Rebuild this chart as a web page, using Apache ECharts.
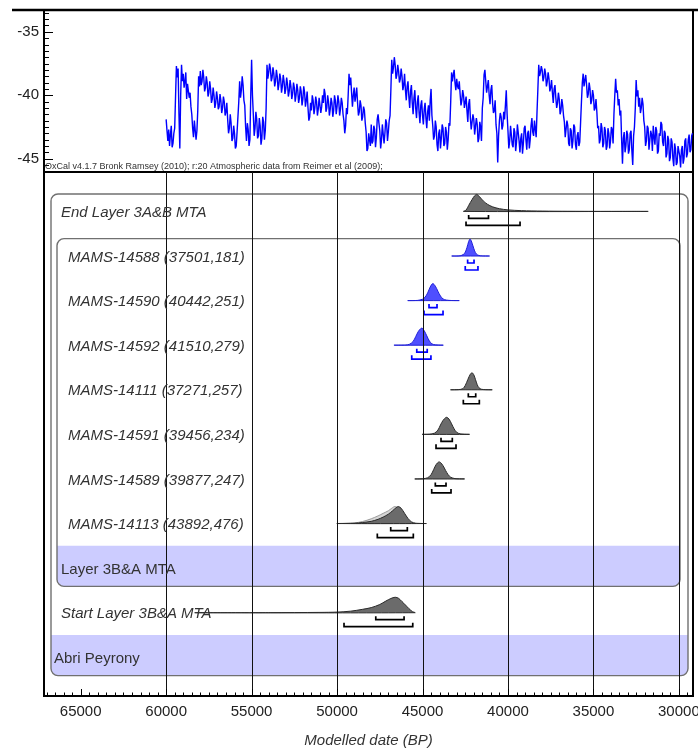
<!DOCTYPE html>
<html>
<head>
<meta charset="utf-8">
<script src="https://cdn.jsdelivr.net/npm/echarts@6/dist/echarts.min.js"></script>
<style>
html, body { margin: 0; padding: 0; background: #fff; }
#chart { width: 698px; height: 749px; }
</style>
</head>
<body>
<div id="chart"></div>
<script>
// δ18O ice-core record (per mil), sampled every 50 years from 60000 BP towards the present
const isoStartYear = 60000;
const isoStep = 50;
const isoValues = [
  -41.9,-42.8,-43.6,-42.7,-44.0,-43.1,-42.4,-44.1,-43.8,-43.0,-42.6,-40.1,-37.7,-38.6,-37.9,-41.5,-44.2,-40.0,-37.6,-38.9,
  -38.3,-39.4,-38.9,-38.2,-40.3,-39.1,-39.0,-40.2,-39.8,-40.9,-41.5,-42.6,-43.3,-42.0,-42.1,-43.5,-42.8,-41.2,-38.5,-39.3,
  -38.1,-39.2,-38.9,-38.0,-38.6,-39.7,-39.4,-38.5,-39.0,-40.1,-39.8,-38.9,-39.5,-40.6,-40.3,-39.4,-40.0,-41.0,-40.6,-39.7,
  -40.2,-41.1,-40.9,-39.9,-40.4,-41.4,-41.0,-40.1,-40.5,-41.6,-41.3,-40.6,-41.9,-43.0,-42.6,-41.5,-42.2,-43.6,-43.4,-42.4,
  -43.0,-44.2,-44.0,-42.9,-42.8,-40.5,-38.9,-40.2,-39.6,-38.5,-39.2,-40.4,-40.8,-42.5,-43.6,-42.2,-42.7,-44.0,-43.5,-40.0,
  -37.2,-40.0,-41.5,-43.2,-42.6,-41.3,-41.9,-43.4,-43.2,-41.8,-42.4,-43.9,-43.4,-41.7,-42.1,-43.5,-42.8,-41.0,-37.6,-38.7,
  -38.2,-37.5,-37.9,-38.9,-38.6,-37.8,-38.3,-39.3,-38.9,-38.0,-38.5,-39.6,-39.1,-38.3,-38.7,-39.8,-39.3,-38.4,-38.9,-39.9,
  -39.5,-38.6,-39.1,-40.1,-39.7,-38.8,-39.3,-40.3,-39.9,-39.0,-39.4,-40.5,-40.0,-39.1,-39.6,-40.6,-40.2,-39.3,-39.7,-40.8,
  -40.3,-39.3,-39.8,-40.9,-40.4,-39.7,-41.0,-42.0,-41.7,-40.6,-41.2,-40.0,-40.4,-41.5,-41.0,-40.1,-40.5,-41.6,-41.1,-40.2,
  -40.3,-41.4,-40.9,-40.0,-40.6,-39.5,-39.9,-41.3,-41.0,-40.0,-40.5,-41.6,-41.1,-40.2,-40.6,-41.7,-41.2,-40.0,-40.4,-41.5,
  -40.9,-40.0,-40.5,-41.6,-41.1,-40.2,-40.6,-41.5,-42.0,-43.0,-42.4,-41.0,-41.5,-40.0,-38.3,-39.2,-38.6,-39.8,-40.9,-40.0,
  -39.4,-40.5,-40.0,-39.4,-40.6,-41.6,-41.3,-40.4,-40.8,-42.0,-41.7,-40.9,-41.2,-42.2,-42.9,-44.4,-44.2,-43.0,-43.1,-44.0,
  -42.3,-43.8,-43.6,-42.4,-42.7,-44.1,-43.3,-41.9,-41.5,-42.2,-42.8,-44.2,-43.5,-42.3,-42.4,-43.8,-43.0,-41.9,-42.2,-43.6,
  -42.9,-42.0,-41.6,-39.5,-37.2,-38.3,-37.8,-37.0,-37.6,-38.7,-38.4,-37.6,-38.1,-39.0,-38.7,-37.9,-38.5,-39.6,-39.2,-38.3,
  -39.6,-40.4,-39.3,-38.9,-40.1,-41.0,-39.7,-39.2,-40.6,-41.5,-40.2,-39.6,-41.0,-41.8,-40.5,-40.0,-41.4,-42.2,-40.8,-40.4,
  -41.6,-42.3,-41.1,-40.6,-41.8,-42.6,-41.3,-40.8,-42.0,-40.4,-39.5,-41.6,-42.4,-43.5,-43.2,-42.0,-42.5,-43.9,-44.4,-43.0,
  -42.7,-44.2,-43.4,-42.3,-42.6,-44.0,-43.8,-42.5,-42.9,-44.3,-43.5,-42.2,-42.4,-40.5,-38.2,-38.9,-38.4,-38.0,-39.0,-39.6,
  -38.7,-39.3,-39.5,-38.9,-39.9,-40.8,-40.4,-39.6,-40.0,-41.0,-40.9,-40.1,-41.2,-42.1,-40.7,-40.3,-41.8,-42.7,-42.6,-41.5,
  -41.9,-43.1,-43.0,-41.8,-42.3,-43.7,-43.4,-42.1,-42.5,-43.6,-41.0,-40.2,-38.4,-38.0,-38.9,-39.8,-39.3,-38.8,-40.0,-40.7,
  -39.6,-39.2,-40.6,-41.4,-41.2,-40.4,-42.3,-43.0,-45.3,-43.2,-42.0,-41.4,-41.7,-42.7,-42.4,-41.3,-41.9,-40.8,-39.6,-41.5,
  -42.8,-44.2,-43.6,-42.4,-42.5,-43.9,-44.1,-42.6,-42.9,-44.4,-43.7,-42.3,-42.2,-43.6,-44.5,-43.4,-43.0,-44.6,-43.8,-42.6,
  -42.4,-43.5,-44.3,-43.0,-42.8,-44.2,-43.5,-42.4,-41.8,-42.9,-43.2,-42.0,-42.1,-43.3,-41.3,-39.5,-37.6,-38.5,-38.2,-37.7,
  -38.0,-38.9,-38.6,-37.9,-38.3,-39.3,-38.9,-38.2,-38.7,-39.7,-39.4,-38.8,-39.8,-40.6,-39.5,-39.2,-40.2,-41.0,-40.6,-39.8,
  -40.3,-41.5,-41.2,-40.3,-40.8,-41.6,-42.1,-43.3,-43.2,-42.0,-42.4,-43.8,-44.0,-42.6,-42.8,-44.2,-43.6,-42.3,-42.5,-43.9,
  -44.3,-43.2,-42.9,-44.0,-43.7,-42.1,-40.5,-39.0,-38.3,-39.3,-38.8,-38.4,-39.2,-40.2,-39.9,-39.0,-39.5,-40.7,-40.4,-39.6,
  -40.0,-41.2,-41.0,-40.3,-41.3,-42.6,-42.4,-43.8,-43.5,-42.2,-42.6,-44.1,-43.8,-42.5,-42.8,-44.3,-44.0,-42.6,-43.0,-44.2,
  -43.6,-42.5,-42.7,-43.8,-41.5,-40.0,-38.7,-39.8,-39.6,-40.8,-40.3,-41.6,-41.2,-43.5,-45.4,-43.4,-42.9,-44.5,-44.0,-42.8,
  -43.1,-44.6,-44.3,-43.0,-42.8,-44.4,-45.5,-43.2,-42.5,-41.0,-38.8,-40.1,-39.6,-40.9,-40.2,-41.4,-41.0,-40.2,-40.7,-42.0,
  -42.5,-44.0,-43.6,-42.4,-42.6,-44.3,-44.2,-42.8,-43.1,-44.4,-42.4,-43.3,-43.9,-42.5,-42.8,-44.6,-44.4,-43.0,-43.2,-42.1,
  -42.3,-43.7,-44.0,-42.8,-43.0,-44.9,-44.6,-43.2,-43.5,-45.2,-44.9,-43.4,-43.7,-45.0,-45.6,-43.8,-44.2,-45.5,-45.3,-44.0,
  -43.9,-44.8,-45.7,-44.3,-44.0,-45.4,-45.0,-43.6,-43.4,-44.9,-44.6,-43.5,-43.1,-44.5,-44.3,-43.2,-43.0
];

// Axis ranges
const AGE_MIN = 29174, AGE_MAX = 67147;
const ISO_MIN = -46.05, ISO_MAX = -33.28;
const ROW_MIN = -0.884, ROW_MAX = 10.868;

const ageTickLabels = [65000, 60000, 55000, 50000, 45000, 40000, 35000, 30000];
const ageGridLines = [60000, 55000, 50000, 45000, 40000, 35000, 30000];
const isoTickLabels = [-45, -40, -35];

// Model rows, top to bottom
const rowLabels = [
  'End Layer 3A&B MTA',
  'MAMS-14588 (37501,181)',
  'MAMS-14590 (40442,251)',
  'MAMS-14592 (41510,279)',
  'MAMS-14111 (37271,257)',
  'MAMS-14591 (39456,234)',
  'MAMS-14589 (39877,247)',
  'MAMS-14113 (43892,476)',
  'Layer 3B&A MTA',
  'Start Layer 3B&A MTA',
  'Abri Peyrony'
];

// Posterior densities: [calendar age BP, relative density]
const endLayerPdf = [[42600,0],[42450,0.08],[42300,0.35],[42100,0.7],[41950,0.92],[41820,1],[41650,0.85],[41450,0.62],[41200,0.42],[40900,0.27],[40500,0.16],[40000,0.09],[39200,0.045],[38000,0.02],[36500,0.008],[34500,0.003],[31860,0]];
const mams14588Pdf = [[43280,0],[42800,0.01],[42600,0.1],[42500,0.22],[42400,0.5],[42300,0.85],[42220,1],[42150,0.9],[42050,0.6],[41950,0.3],[41850,0.12],[41700,0.03],[41500,0.005],[41090,0]];
const mams14590Pdf = [[45849,0],[45300,0.01],[45000,0.08],[44850,0.2],[44700,0.45],[44550,0.8],[44400,1],[44250,0.85],[44100,0.55],[43950,0.27],[43800,0.1],[43600,0.03],[43300,0.005],[42865,0]];
const mams14592Pdf = [[46655,0],[46000,0.01],[45750,0.06],[45550,0.22],[45400,0.5],[45250,0.8],[45100,0.98],[45020,1],[44900,0.85],[44750,0.55],[44600,0.25],[44450,0.08],[44250,0.02],[43800,0]];
const mams14111Pdf = [[43350,0],[42900,0.01],[42650,0.06],[42500,0.25],[42350,0.6],[42200,0.92],[42100,1],[42000,0.88],[41900,0.6],[41800,0.3],[41700,0.12],[41550,0.03],[41300,0.005],[40933,0]];
const mams14591Pdf = [[45012,0],[44600,0.01],[44300,0.07],[44100,0.25],[43950,0.55],[43800,0.82],[43650,0.98],[43580,1],[43450,0.9],[43300,0.62],[43150,0.32],[43000,0.12],[42800,0.03],[42262,0]];
const mams14589Pdf = [[45439,0],[45000,0.01],[44700,0.07],[44500,0.25],[44350,0.55],[44200,0.85],[44050,1],[43950,0.97],[43800,0.78],[43650,0.5],[43500,0.25],[43350,0.1],[43100,0.02],[42555,0]];
const mams14113Pdf = [[49986,0],[49000,0.02],[48500,0.06],[48000,0.13],[47600,0.25],[47300,0.38],[47000,0.55],[46750,0.75],[46550,0.93],[46420,1],[46250,0.9],[46050,0.6],[45850,0.3],[45650,0.1],[45400,0.02],[44796,0]];
const startLayerPdf = [[58255,0],[54000,0.003],[51000,0.02],[50000,0.04],[49200,0.1],[48500,0.22],[48000,0.33],[47500,0.53],[47150,0.75],[46850,0.92],[46600,1],[46400,0.93],[46200,0.72],[46000,0.5],[45800,0.27],[45600,0.08],[45436,0]];
// Unmodelled calibrated likelihood for MAMS-14113
const mams14113Likelihood = [[49600,0],[49000,0.03],[48500,0.12],[48000,0.28],[47600,0.45],[47300,0.6],[47000,0.75],[46800,0.9],[46620,1],[46450,0.92],[46250,0.6],[46050,0.3],[45850,0.1],[45650,0.02],[45400,0]];

// Highest posterior density ranges (68.2% and 95.4%), one per row
const hpd68 = [[42300,41140],[42360,41986],[44620,44152],[45336,44725],[42320,41887],[43918,43257],[44251,43625],[46861,45889],null,[47735,46079],null];
const hpd95 = [[42454,39294],[42500,41756],[44912,43800],[45630,44508],[42612,41676],[44210,43040],[44462,43333],[47645,45538],null,[49593,45571],null];

const FONT = '"Liberation Sans", Arial, Helvetica, sans-serif';
const PEAK_PX = 17;

const distRows = [
  { row: 0, pdf: endLayerPdf, blue: false },
  { row: 1, pdf: mams14588Pdf, blue: true },
  { row: 2, pdf: mams14590Pdf, blue: true },
  { row: 3, pdf: mams14592Pdf, blue: true },
  { row: 4, pdf: mams14111Pdf, blue: false },
  { row: 5, pdf: mams14591Pdf, blue: false },
  { row: 6, pdf: mams14589Pdf, blue: false },
  { row: 7, pdf: mams14113Pdf, blue: false, prior: mams14113Likelihood },
  { row: 9, pdf: startLayerPdf, blue: false, scale: 0.91 }
];

// Sequence / phase boxes: first row, last row, nesting level
const groups = [
  { first: 0, last: 10, level: 0 },
  { first: 1, last: 8, level: 1 }
];

// Label indentation per row (nesting and whether the row names a group)
const rowKind = ['item1','item2','item2','item2','item2','item2','item2','item2','group1','item1','group0'];

const isoData = isoValues.map((v, i) => [isoStartYear - i * isoStep, v]);

// Tick positions: every 500 years on the date axis, every 0.5 per mil on the δ18O axis
const ageTicks = [];
for (let a = 29500; a <= 67000; a += 500) ageTicks.push(a);
const isoTicks = [];
for (let v = -46; v <= -33.5; v += 0.5) isoTicks.push(v);

const chart = echarts.init(document.getElementById('chart'), null, { renderer: 'canvas' });

function frameInsets(level, cs) {
  const l = cs.x + (level === 0 ? 7 : 13);
  const r = cs.x + cs.width - (level === 0 ? 5 : 13);
  return [l, r];
}

const plainNumber = v => String(v);

const option = {
  animation: false,
  backgroundColor: '#fff',
  grid: [
    { left: 44, top: 10, right: 5, height: 162, show: true, borderColor: '#000', borderWidth: 2, containLabel: false, outerBoundsMode: 'none' },
    { left: 44, top: 172, right: 5, bottom: 53, show: true, borderColor: '#000', borderWidth: 2, containLabel: false, outerBoundsMode: 'none' }
  ],
  xAxis: [
    { gridIndex: 0, type: 'value', min: AGE_MIN, max: AGE_MAX, inverse: true, show: false },
    {
      gridIndex: 1, type: 'value', min: AGE_MIN, max: AGE_MAX, inverse: true, position: 'bottom',
      axisLine: { show: true, onZero: false, lineStyle: { color: '#000', width: 2 } },
      axisTick: { show: false },
      axisLabel: { show: true, customValues: ageTickLabels, formatter: plainNumber, margin: 8, color: '#222', fontSize: 15, fontFamily: FONT },
      splitLine: { show: false },
      name: 'Modelled date (BP)', nameLocation: 'middle', nameGap: 37,
      nameTextStyle: { fontStyle: 'italic', fontSize: 15, color: '#333', fontFamily: FONT }
    }
  ],
  yAxis: [
    {
      gridIndex: 0, type: 'value', min: ISO_MIN, max: ISO_MAX, position: 'left',
      axisLine: { show: true, onZero: false, lineStyle: { color: '#000', width: 2 } },
      axisTick: { show: false },
      axisLabel: { show: true, customValues: isoTickLabels, formatter: plainNumber, margin: 5, color: '#222', fontSize: 15, fontFamily: FONT },
      splitLine: { show: false }
    },
    { gridIndex: 1, type: 'value', min: ROW_MIN, max: ROW_MAX, inverse: true, show: false, axisLine: { onZero: false } }
  ],
  graphic: [
    { type: 'line', shape: { x1: 12, y1: 10, x2: 698, y2: 10 }, style: { stroke: '#000', lineWidth: 2.5 }, z: 100 },
    {
      type: 'text', left: 45, top: 162, z: 100,
      style: { text: 'OxCal v4.1.7 Bronk Ramsey (2010); r:20 Atmospheric data from Reimer et al (2009);', font: '9px ' + FONT, fill: '#333' }
    }
  ],
  series: [
    {
      name: 'δ18O', type: 'line', xAxisIndex: 0, yAxisIndex: 0, data: isoData,
      showSymbol: false, symbol: 'none', lineStyle: { color: '#0000ff', width: 1.4 }, z: 2
    },
    {
      // inward ticks on the δ18O axis (long at labelled values)
      name: 'isoTicks', type: 'custom', xAxisIndex: 0, yAxisIndex: 0, z: 6, clip: false,
      data: isoTicks.map(v => [AGE_MAX, v]),
      renderItem: function (params, api) {
        const cs = params.coordSys;
        const v = api.value(1);
        const major = isoTickLabels.indexOf(Math.round(v * 10) / 10) >= 0;
        const y = Math.round(api.coord([AGE_MAX, v])[1]) + 0.5;
        return { type: 'line', shape: { x1: cs.x, y1: y, x2: cs.x + (major ? 9 : 5), y2: y }, style: { stroke: '#000', lineWidth: 1 } };
      }
    },
    {
      // inward ticks on the date axis (long at labelled values)
      name: 'ageTicks', type: 'custom', xAxisIndex: 1, yAxisIndex: 1, z: 6, clip: false,
      data: ageTicks.map(a => [a, ROW_MAX]),
      renderItem: function (params, api) {
        const cs = params.coordSys;
        const a = api.value(0);
        const major = ageTickLabels.indexOf(a) >= 0;
        const x = Math.round(api.coord([a, ROW_MAX])[0]) + 0.5;
        const yb = cs.y + cs.height;
        return { type: 'line', shape: { x1: x, y1: yb, x2: x, y2: yb - (major ? 7 : 3.5) }, style: { stroke: '#000', lineWidth: 1 } };
      }
    },
    {
      // sequence and phase frames with their shaded name bands
      name: 'frames', type: 'custom', xAxisIndex: 1, yAxisIndex: 1, z: 1, clip: false,
      data: groups.map(g => [AGE_MAX, g.first]),
      renderItem: function (params, api) {
        const g = groups[params.dataIndex];
        const cs = params.coordSys;
        const lr = frameInsets(g.level, cs);
        const top = api.coord([AGE_MAX, g.first - 0.39])[1];
        const bottom = api.coord([AGE_MAX, g.last + 0.41])[1];
        const bandTop = api.coord([AGE_MAX, g.last - 0.5])[1];
        return {
          type: 'group',
          children: [
            { type: 'rect', shape: { x: lr[0], y: bandTop, width: lr[1] - lr[0], height: bottom - bandTop, r: [0, 0, 7, 7] }, style: { fill: '#ccccff' } },
            { type: 'rect', shape: { x: lr[0], y: top, width: lr[1] - lr[0], height: bottom - top, r: 7 }, style: { fill: null, stroke: '#707070', lineWidth: 1.4 } }
          ]
        };
      }
    },
    {
      // probability distributions and their HPD range brackets
      name: 'distributions', type: 'custom', xAxisIndex: 1, yAxisIndex: 1, z: 3, clip: false,
      data: distRows.map(d => [d.pdf[0][0], d.row]),
      renderItem: function (params, api) {
        const d = distRows[params.dataIndex];
        const base = api.coord([AGE_MAX, d.row])[1];
        const k = d.scale || 1;
        const children = [];
        const shape = function (pdf, fill, stroke) {
          const pts = pdf.map(p => [api.coord([p[0], d.row])[0], base - p[1] * PEAK_PX * k]);
          children.push({ type: 'polygon', shape: { points: pts, smooth: 0.3 }, style: { fill: fill, stroke: stroke, lineWidth: 1 } });
        };
        if (d.prior) shape(d.prior, '#d6d6d6', '#9a9a9a');
        if (d.blue) shape(d.pdf, '#4f4fff', '#2020d8');
        else shape(d.pdf, '#6b6b6b', '#2a2a2a');
        const col = d.blue ? '#0000ff' : '#000';
        const bracket = function (r, tip, bot) {
          if (!r) return;
          const x1 = api.coord([r[0], d.row])[0];
          const x2 = api.coord([r[1], d.row])[0];
          children.push({ type: 'polyline', shape: { points: [[x1, base + tip], [x1, base + bot], [x2, base + bot], [x2, base + tip]] }, style: { stroke: col, lineWidth: 1.7, fill: null } });
        };
        bracket(hpd68[d.row], 3.5, 7);
        bracket(hpd95[d.row], 10, 14);
        return { type: 'group', children: children };
      }
    },
    {
      // vertical date grid across the model panel
      name: 'grid', type: 'custom', xAxisIndex: 1, yAxisIndex: 1, z: 4, clip: false,
      data: ageGridLines.map(a => [a, 0]),
      renderItem: function (params, api) {
        const cs = params.coordSys;
        const x = Math.round(api.coord([api.value(0), 0])[0]) + 0.5;
        return { type: 'line', shape: { x1: x, y1: cs.y, x2: x, y2: cs.y + cs.height }, style: { stroke: '#111', lineWidth: 1 } };
      }
    },
    {
      // row names
      name: 'labels', type: 'custom', xAxisIndex: 1, yAxisIndex: 1, z: 5, clip: false,
      data: rowLabels.map((t, i) => [AGE_MAX, i]),
      renderItem: function (params, api) {
        const i = params.dataIndex;
        const cs = params.coordSys;
        const kind = rowKind[i];
        let x;
        if (kind === 'item1') x = frameInsets(0, cs)[0] + 10;
        else if (kind === 'item2') x = frameInsets(1, cs)[0] + 11;
        else if (kind === 'group1') x = frameInsets(1, cs)[0] + 4;
        else x = frameInsets(0, cs)[0] + 3;
        const italic = kind.indexOf('item') === 0;
        const y = api.coord([AGE_MAX, i])[1] + 1.5;
        return {
          type: 'text',
          style: { text: rowLabels[i], x: x, y: y, align: 'left', verticalAlign: 'middle', font: (italic ? 'italic ' : '') + '15px ' + FONT, fill: '#333' }
        };
      }
    }
  ]
};

chart.setOption(option);
</script>
</body>
</html>
